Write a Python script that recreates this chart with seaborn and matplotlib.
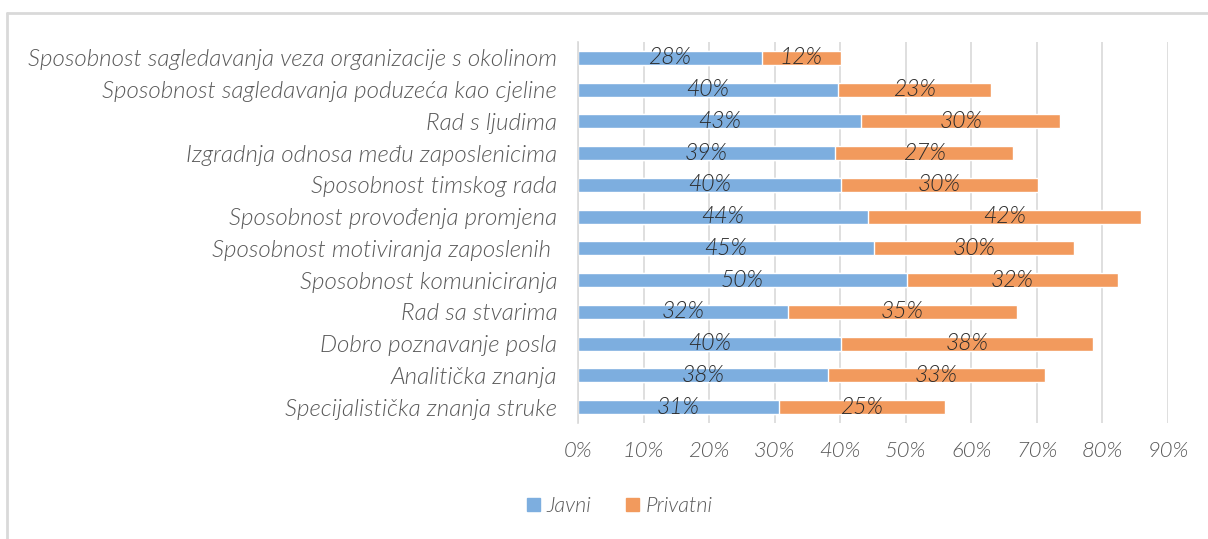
import matplotlib
matplotlib.use("Agg")
import matplotlib.pyplot as plt
from matplotlib.lines import Line2D
from matplotlib.patches import Patch
import seaborn as sns
import pandas as pd

categories = [
    "Sposobnost sagledavanja veza organizacije s okolinom",
    "Sposobnost sagledavanja poduzeća kao cjeline",
    "Rad s ljudima",
    "Izgradnja odnosa među zaposlenicima",
    "Sposobnost timskog rada",
    "Sposobnost provođenja promjena",
    "Sposobnost motiviranja zaposlenih ",
    "Sposobnost komuniciranja",
    "Rad sa stvarima",
    "Dobro poznavanje posla",
    "Analitička znanja",
    "Specijalistička znanja struke",
]
javni = [28.0, 39.6, 43.2, 39.2, 40.1, 44.2, 45.2, 50.2, 32.0, 40.1, 38.1, 30.6]
privatni = [12.1, 23.4, 30.4, 27.2, 30.0, 41.7, 30.4, 32.1, 34.9, 38.4, 33.1, 25.4]
x_ticks = [0, 10, 20, 30, 40, 50, 60, 70, 80, 90]
series_names = ["Javni", "Privatni"]

blue = "#7DAEDF"
orange = "#F29A5D"
grid_c = "#D9D9D9"
txt_c = "#595959"
lab_c = "#2B2B2B"

df = pd.DataFrame({"kat": categories, "javni": javni, "privatni": privatni})
df["ukupno"] = df["javni"] + df["privatni"]

sns.set_theme(style="white")
plt.rcParams["font.family"] = ["Lato", "DejaVu Sans"]
plt.rcParams["font.style"] = "italic"

fig = plt.figure(figsize=(12.08, 5.39), dpi=100)
ax = fig.add_axes([578 / 1208, 1 - 423 / 539, (1168 - 578) / 1208, (423 - 42) / 539])

# stacked: total (orange) first, then the public part (blue) on top
sns.barplot(data=df, y="kat", x="ukupno", color=orange, saturation=1,
            width=0.44, ax=ax, orient="h")
sns.barplot(data=df, y="kat", x="javni", color=blue, saturation=1,
            width=0.44, ax=ax, orient="h")

for i, row in df.iterrows():
    ax.text(row["javni"] / 2, i, f"{round(row['javni'])}%", ha="center",
            va="center", fontsize=16.5, color=lab_c, style="italic", weight=300)
    ax.text(row["javni"] + row["privatni"] / 2, i, f"{round(row['privatni'])}%",
            ha="center", va="center", fontsize=16.5, color=lab_c, style="italic",
            weight=300)

ax.set_xlim(0, 90)
ax.set_ylim(11.5, -0.5)
ax.set_xticks(x_ticks)
ax.set_xticklabels([f"{t}%" for t in x_ticks])
ax.set_xlabel("")
ax.set_ylabel("")
ax.xaxis.grid(True, color=grid_c, linewidth=1.2)
ax.set_axisbelow(True)
for s in ["top", "right", "bottom"]:
    ax.spines[s].set_visible(False)
ax.spines["left"].set_color(grid_c)
ax.spines["left"].set_linewidth(1.2)
ax.tick_params(axis="both", length=0, colors=txt_c)
ax.tick_params(axis="y", pad=15, labelsize=17.4)
ax.tick_params(axis="x", pad=13, labelsize=15.8)
for t in ax.get_xticklabels() + ax.get_yticklabels():
    t.set_style("italic")
    t.set_weight(300)

handles = [Patch(color=blue), Patch(color=orange)]
leg = fig.legend(handles, series_names, loc="center", bbox_to_anchor=(0.513, 0.061),
                 ncol=2, frameon=False, fontsize=15.5, handlelength=0.6,
                 handleheight=0.6, handletextpad=0.3, columnspacing=1.6)
for t in leg.get_texts():
    t.set_color(txt_c)
    t.set_style("italic")
    t.set_weight(300)

# chart area border (runs off the right and bottom edge)
fig.add_artist(Line2D([7 / 1208, 1.0], [1 - 13 / 539, 1 - 13 / 539],
                      transform=fig.transFigure, color=grid_c, linewidth=2))
fig.add_artist(Line2D([7 / 1208, 7 / 1208], [0, 1 - 13 / 539],
                      transform=fig.transFigure, color=grid_c, linewidth=2))

fig.savefig("out.png", dpi=100, facecolor="white")
